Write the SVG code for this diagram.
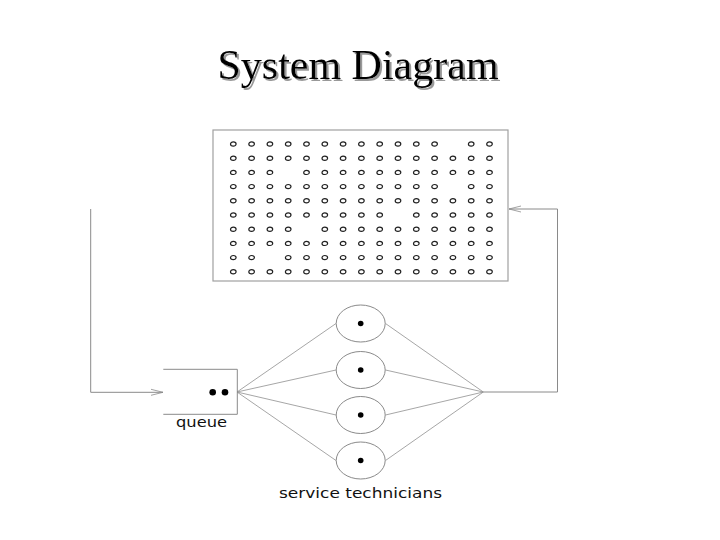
<svg xmlns="http://www.w3.org/2000/svg" width="720" height="540" viewBox="0 0 720 540">
<defs>
<style>
.ln{fill:none;stroke:#8a8a8a;stroke-width:1}
.fan{fill:none;stroke:#8f8f8f;stroke-width:0.8}
.g{fill:none;stroke:#222;stroke-width:1.2}
.dot{fill:#000}
.lbl{font-family:"DejaVu Sans",Verdana,sans-serif;font-size:14px;fill:#111}
.title{font-family:"Liberation Serif","Times New Roman",serif;font-size:42px}
</style>
<filter id="sh" x="-5%" y="-20%" width="110%" height="140%">
<feDropShadow dx="2" dy="2" stdDeviation="0.6" flood-color="#999" flood-opacity="1"/>
</filter>
<marker id="arr" viewBox="0 0 12 8" refX="12" refY="4" markerWidth="12" markerHeight="8" markerUnits="userSpaceOnUse" orient="auto">
<path d="M0,1 L12,4 L0,7" fill="none" stroke="#8a8a8a" stroke-width="0.8"/>
</marker>
</defs>
<rect width="720" height="540" fill="#fff"/>
<g id="title">
<text x="358" y="79" text-anchor="middle" class="title" fill="#000" filter="url(#sh)">System Diagram</text>
</g>
<g id="population">
<rect x="213" y="130" width="295" height="151" fill="#fff" stroke="#a0a0a0" stroke-width="1.2"/>
<g id="grid" class="g">
<g transform="translate(0,144)">
<ellipse cx="233.3" cy="0" rx="2.8" ry="2.1"/><ellipse cx="251.6" cy="0" rx="2.8" ry="2.1"/><ellipse cx="269.9" cy="0" rx="2.8" ry="2.1"/><ellipse cx="288.2" cy="0" rx="2.8" ry="2.1"/><ellipse cx="306.5" cy="0" rx="2.8" ry="2.1"/><ellipse cx="324.8" cy="0" rx="2.8" ry="2.1"/><ellipse cx="343.1" cy="0" rx="2.8" ry="2.1"/><ellipse cx="361.4" cy="0" rx="2.8" ry="2.1"/><ellipse cx="379.7" cy="0" rx="2.8" ry="2.1"/><ellipse cx="398" cy="0" rx="2.8" ry="2.1"/><ellipse cx="416.3" cy="0" rx="2.8" ry="2.1"/><ellipse cx="434.6" cy="0" rx="2.8" ry="2.1"/><ellipse cx="471.2" cy="0" rx="2.8" ry="2.1"/><ellipse cx="489.5" cy="0" rx="2.8" ry="2.1"/>
</g>
<g transform="translate(0,158.2)">
<ellipse cx="233.3" cy="0" rx="2.8" ry="2.1"/><ellipse cx="251.6" cy="0" rx="2.8" ry="2.1"/><ellipse cx="269.9" cy="0" rx="2.8" ry="2.1"/><ellipse cx="288.2" cy="0" rx="2.8" ry="2.1"/><ellipse cx="306.5" cy="0" rx="2.8" ry="2.1"/><ellipse cx="324.8" cy="0" rx="2.8" ry="2.1"/><ellipse cx="343.1" cy="0" rx="2.8" ry="2.1"/><ellipse cx="361.4" cy="0" rx="2.8" ry="2.1"/><ellipse cx="379.7" cy="0" rx="2.8" ry="2.1"/><ellipse cx="398" cy="0" rx="2.8" ry="2.1"/><ellipse cx="416.3" cy="0" rx="2.8" ry="2.1"/><ellipse cx="434.6" cy="0" rx="2.8" ry="2.1"/><ellipse cx="452.9" cy="0" rx="2.8" ry="2.1"/><ellipse cx="471.2" cy="0" rx="2.8" ry="2.1"/><ellipse cx="489.5" cy="0" rx="2.8" ry="2.1"/>
</g>
<g transform="translate(0,172.4)">
<ellipse cx="233.3" cy="0" rx="2.8" ry="2.1"/><ellipse cx="251.6" cy="0" rx="2.8" ry="2.1"/><ellipse cx="269.9" cy="0" rx="2.8" ry="2.1"/><ellipse cx="306.5" cy="0" rx="2.8" ry="2.1"/><ellipse cx="324.8" cy="0" rx="2.8" ry="2.1"/><ellipse cx="343.1" cy="0" rx="2.8" ry="2.1"/><ellipse cx="361.4" cy="0" rx="2.8" ry="2.1"/><ellipse cx="379.7" cy="0" rx="2.8" ry="2.1"/><ellipse cx="398" cy="0" rx="2.8" ry="2.1"/><ellipse cx="416.3" cy="0" rx="2.8" ry="2.1"/><ellipse cx="434.6" cy="0" rx="2.8" ry="2.1"/><ellipse cx="452.9" cy="0" rx="2.8" ry="2.1"/><ellipse cx="471.2" cy="0" rx="2.8" ry="2.1"/><ellipse cx="489.5" cy="0" rx="2.8" ry="2.1"/>
</g>
<g transform="translate(0,186.6)">
<ellipse cx="233.3" cy="0" rx="2.8" ry="2.1"/><ellipse cx="251.6" cy="0" rx="2.8" ry="2.1"/><ellipse cx="269.9" cy="0" rx="2.8" ry="2.1"/><ellipse cx="288.2" cy="0" rx="2.8" ry="2.1"/><ellipse cx="306.5" cy="0" rx="2.8" ry="2.1"/><ellipse cx="324.8" cy="0" rx="2.8" ry="2.1"/><ellipse cx="343.1" cy="0" rx="2.8" ry="2.1"/><ellipse cx="361.4" cy="0" rx="2.8" ry="2.1"/><ellipse cx="379.7" cy="0" rx="2.8" ry="2.1"/><ellipse cx="398" cy="0" rx="2.8" ry="2.1"/><ellipse cx="416.3" cy="0" rx="2.8" ry="2.1"/><ellipse cx="434.6" cy="0" rx="2.8" ry="2.1"/><ellipse cx="471.2" cy="0" rx="2.8" ry="2.1"/><ellipse cx="489.5" cy="0" rx="2.8" ry="2.1"/>
</g>
<g transform="translate(0,200.8)">
<ellipse cx="233.3" cy="0" rx="2.8" ry="2.1"/><ellipse cx="251.6" cy="0" rx="2.8" ry="2.1"/><ellipse cx="269.9" cy="0" rx="2.8" ry="2.1"/><ellipse cx="288.2" cy="0" rx="2.8" ry="2.1"/><ellipse cx="306.5" cy="0" rx="2.8" ry="2.1"/><ellipse cx="324.8" cy="0" rx="2.8" ry="2.1"/><ellipse cx="343.1" cy="0" rx="2.8" ry="2.1"/><ellipse cx="361.4" cy="0" rx="2.8" ry="2.1"/><ellipse cx="379.7" cy="0" rx="2.8" ry="2.1"/><ellipse cx="398" cy="0" rx="2.8" ry="2.1"/><ellipse cx="416.3" cy="0" rx="2.8" ry="2.1"/><ellipse cx="434.6" cy="0" rx="2.8" ry="2.1"/><ellipse cx="452.9" cy="0" rx="2.8" ry="2.1"/><ellipse cx="471.2" cy="0" rx="2.8" ry="2.1"/><ellipse cx="489.5" cy="0" rx="2.8" ry="2.1"/>
</g>
<g transform="translate(0,215)">
<ellipse cx="233.3" cy="0" rx="2.8" ry="2.1"/><ellipse cx="251.6" cy="0" rx="2.8" ry="2.1"/><ellipse cx="269.9" cy="0" rx="2.8" ry="2.1"/><ellipse cx="288.2" cy="0" rx="2.8" ry="2.1"/><ellipse cx="306.5" cy="0" rx="2.8" ry="2.1"/><ellipse cx="324.8" cy="0" rx="2.8" ry="2.1"/><ellipse cx="343.1" cy="0" rx="2.8" ry="2.1"/><ellipse cx="361.4" cy="0" rx="2.8" ry="2.1"/><ellipse cx="379.7" cy="0" rx="2.8" ry="2.1"/><ellipse cx="416.3" cy="0" rx="2.8" ry="2.1"/><ellipse cx="434.6" cy="0" rx="2.8" ry="2.1"/><ellipse cx="452.9" cy="0" rx="2.8" ry="2.1"/><ellipse cx="471.2" cy="0" rx="2.8" ry="2.1"/><ellipse cx="489.5" cy="0" rx="2.8" ry="2.1"/>
</g>
<g transform="translate(0,229.2)">
<ellipse cx="233.3" cy="0" rx="2.8" ry="2.1"/><ellipse cx="251.6" cy="0" rx="2.8" ry="2.1"/><ellipse cx="269.9" cy="0" rx="2.8" ry="2.1"/><ellipse cx="288.2" cy="0" rx="2.8" ry="2.1"/><ellipse cx="324.8" cy="0" rx="2.8" ry="2.1"/><ellipse cx="343.1" cy="0" rx="2.8" ry="2.1"/><ellipse cx="361.4" cy="0" rx="2.8" ry="2.1"/><ellipse cx="379.7" cy="0" rx="2.8" ry="2.1"/><ellipse cx="398" cy="0" rx="2.8" ry="2.1"/><ellipse cx="416.3" cy="0" rx="2.8" ry="2.1"/><ellipse cx="434.6" cy="0" rx="2.8" ry="2.1"/><ellipse cx="452.9" cy="0" rx="2.8" ry="2.1"/><ellipse cx="471.2" cy="0" rx="2.8" ry="2.1"/><ellipse cx="489.5" cy="0" rx="2.8" ry="2.1"/>
</g>
<g transform="translate(0,243.4)">
<ellipse cx="233.3" cy="0" rx="2.8" ry="2.1"/><ellipse cx="251.6" cy="0" rx="2.8" ry="2.1"/><ellipse cx="269.9" cy="0" rx="2.8" ry="2.1"/><ellipse cx="288.2" cy="0" rx="2.8" ry="2.1"/><ellipse cx="306.5" cy="0" rx="2.8" ry="2.1"/><ellipse cx="324.8" cy="0" rx="2.8" ry="2.1"/><ellipse cx="343.1" cy="0" rx="2.8" ry="2.1"/><ellipse cx="361.4" cy="0" rx="2.8" ry="2.1"/><ellipse cx="379.7" cy="0" rx="2.8" ry="2.1"/><ellipse cx="398" cy="0" rx="2.8" ry="2.1"/><ellipse cx="416.3" cy="0" rx="2.8" ry="2.1"/><ellipse cx="434.6" cy="0" rx="2.8" ry="2.1"/><ellipse cx="452.9" cy="0" rx="2.8" ry="2.1"/><ellipse cx="471.2" cy="0" rx="2.8" ry="2.1"/><ellipse cx="489.5" cy="0" rx="2.8" ry="2.1"/>
</g>
<g transform="translate(0,257.6)">
<ellipse cx="233.3" cy="0" rx="2.8" ry="2.1"/><ellipse cx="251.6" cy="0" rx="2.8" ry="2.1"/><ellipse cx="288.2" cy="0" rx="2.8" ry="2.1"/><ellipse cx="306.5" cy="0" rx="2.8" ry="2.1"/><ellipse cx="324.8" cy="0" rx="2.8" ry="2.1"/><ellipse cx="343.1" cy="0" rx="2.8" ry="2.1"/><ellipse cx="361.4" cy="0" rx="2.8" ry="2.1"/><ellipse cx="379.7" cy="0" rx="2.8" ry="2.1"/><ellipse cx="398" cy="0" rx="2.8" ry="2.1"/><ellipse cx="416.3" cy="0" rx="2.8" ry="2.1"/><ellipse cx="434.6" cy="0" rx="2.8" ry="2.1"/><ellipse cx="452.9" cy="0" rx="2.8" ry="2.1"/><ellipse cx="471.2" cy="0" rx="2.8" ry="2.1"/><ellipse cx="489.5" cy="0" rx="2.8" ry="2.1"/>
</g>
<g transform="translate(0,271.8)">
<ellipse cx="233.3" cy="0" rx="2.8" ry="2.1"/><ellipse cx="251.6" cy="0" rx="2.8" ry="2.1"/><ellipse cx="269.9" cy="0" rx="2.8" ry="2.1"/><ellipse cx="288.2" cy="0" rx="2.8" ry="2.1"/><ellipse cx="306.5" cy="0" rx="2.8" ry="2.1"/><ellipse cx="324.8" cy="0" rx="2.8" ry="2.1"/><ellipse cx="343.1" cy="0" rx="2.8" ry="2.1"/><ellipse cx="361.4" cy="0" rx="2.8" ry="2.1"/><ellipse cx="379.7" cy="0" rx="2.8" ry="2.1"/><ellipse cx="398" cy="0" rx="2.8" ry="2.1"/><ellipse cx="416.3" cy="0" rx="2.8" ry="2.1"/><ellipse cx="434.6" cy="0" rx="2.8" ry="2.1"/><ellipse cx="452.9" cy="0" rx="2.8" ry="2.1"/><ellipse cx="471.2" cy="0" rx="2.8" ry="2.1"/><ellipse cx="489.5" cy="0" rx="2.8" ry="2.1"/>
</g>
</g>
</g>
<g id="connectors">
<path class="ln" d="M90.7,209 V392.3 H163" marker-end="url(#arr)"/>
<path class="ln" d="M483.3,392 H557.5 V209 H509" marker-end="url(#arr)"/>
<path class="fan" d="M237,392 L336,323.5 M237,392 L336,370 M237,392 L336,415 M237,392 L336,460.5"/>
<path class="fan" d="M385.5,323.5 L483.3,392 M385.5,370 L483.3,392 M385.5,415 L483.3,392 M385.5,460.5 L483.3,392"/>
</g>
<g id="queue">
<path d="M163.3,369.3 H237.3 V414.3 H163.3" fill="none" stroke="#8a8a8a" stroke-width="1"/>
<circle class="dot" cx="212.7" cy="392.3" r="3.3"/>
<circle class="dot" cx="225" cy="392.3" r="3.3"/>
<text class="lbl" x="176" y="427" font-size="15" textLength="51" lengthAdjust="spacingAndGlyphs">queue</text>
</g>
<g id="server1">
<ellipse cx="360.7" cy="323.5" rx="24.5" ry="18.5" fill="none" stroke="#8a8a8a" stroke-width="1"/>
<circle class="dot" cx="360.7" cy="323.5" r="2.8"/>
</g>
<g id="server2">
<ellipse cx="360.7" cy="370" rx="24.5" ry="18.5" fill="none" stroke="#8a8a8a" stroke-width="1"/>
<circle class="dot" cx="360.7" cy="370" r="2.8"/>
</g>
<g id="server3">
<ellipse cx="360.7" cy="415" rx="24.5" ry="18.5" fill="none" stroke="#8a8a8a" stroke-width="1"/>
<circle class="dot" cx="360.7" cy="415" r="2.8"/>
</g>
<g id="server4">
<ellipse cx="360.7" cy="460.5" rx="24.5" ry="18.5" fill="none" stroke="#8a8a8a" stroke-width="1"/>
<circle class="dot" cx="360.7" cy="460.5" r="2.8"/>
</g>
<g id="servers-label">
<text class="lbl" x="279" y="498" textLength="163" lengthAdjust="spacingAndGlyphs">service technicians</text>
</g>
</svg>
